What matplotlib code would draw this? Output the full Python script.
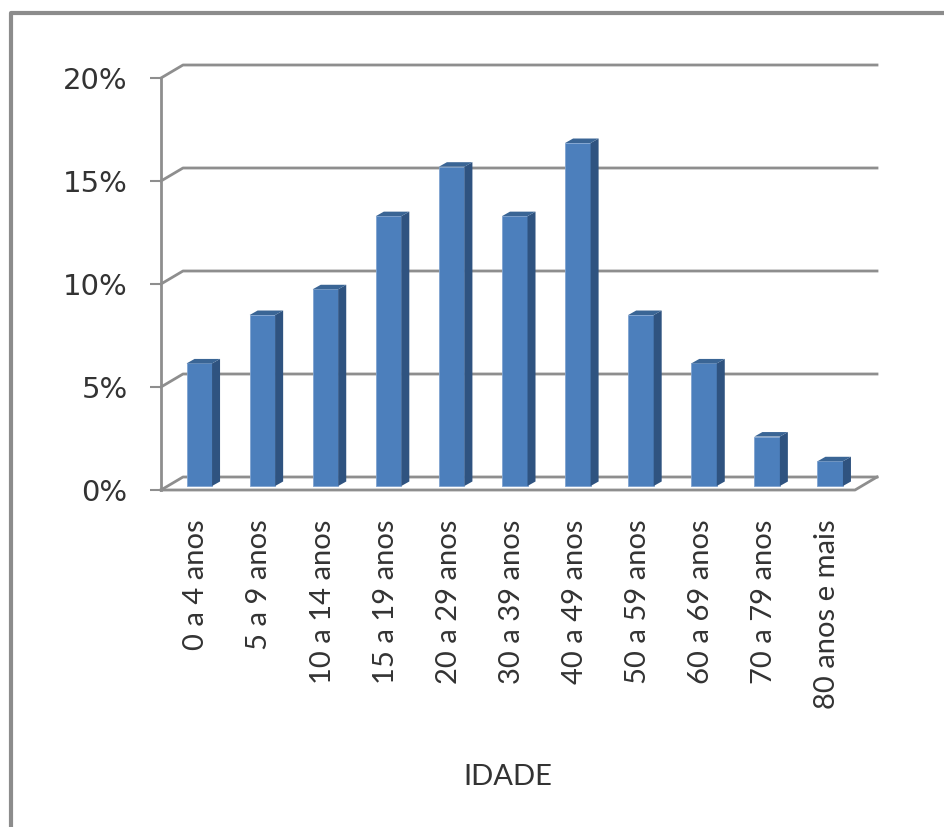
import matplotlib
matplotlib.use("Agg")
import matplotlib.pyplot as plt
from matplotlib.patches import Polygon, Rectangle

categories = ["0 a 4 anos", "5 a 9 anos", "10 a 14 anos", "15 a 19 anos", "20 a 29 anos",
              "30 a 39 anos", "40 a 49 anos", "50 a 59 anos", "60 a 69 anos", "70 a 79 anos",
              "80 anos e mais"]
values = [5.95, 8.3, 9.55, 13.1, 15.5, 13.1, 16.65, 8.3, 5.95, 2.4, 1.2]
yticks = [0, 5, 10, 15, 20]
ytick_labels = ["0%", "5%", "10%", "15%", "20%"]

W, H = 945, 827
LINE = "#8e8e8e"
TEXT = "#333333"
fig = plt.figure(figsize=(W / 100, H / 100), dpi=100, facecolor="white")
# whole figure in pixels for the outer frame
bg = fig.add_axes([0, 0, 1, 1])
bg.set_xlim(0, W)
bg.set_ylim(H, 0)
bg.axis("off")
bg.plot([10.5, 10.5, 945], [827, 13, 13], color="#8c8c8c", lw=3)

# the axes cover the front plane of the fake 3d box
x0, x1 = 161, 855
y0, y1 = 490, 78
ax = fig.add_axes([x0 / W, 1 - y0 / H, (x1 - x0) / W, (y0 - y1) / H])
n = len(values)
ax.set_xlim(0, n)
ax.set_ylim(0, 20)
ax.patch.set_alpha(0)
for s in ["top", "right", "bottom"]:
    ax.spines[s].set_visible(False)
ax.spines["left"].set_color(LINE)
ax.spines["left"].set_linewidth(2)

px = n / (x1 - x0)
py = 20 / (y0 - y1)

# depth of the box walls
dx = 22 * px
dy = 13 * py
for t in yticks:
    ax.plot([0, dx, n + dx], [t, t + dy, t + dy], color=LINE, lw=2, clip_on=False, zorder=1)
ax.plot([n + dx, n, 0], [dy, 0, 0], color=LINE, lw=2, clip_on=False, zorder=1)

bar_w = 25.5 * px
bx = 8 * px
by = 4.5 * py
base = 4 * py
for i, v in enumerate(values):
    left = i + 0.405
    top = base + v
    ax.add_patch(Rectangle((left, base), bar_w, v, facecolor="#4c7fbc", edgecolor="#7fa3d0", lw=0.6, zorder=3))
    ax.add_patch(Polygon([(left + bar_w, base), (left + bar_w + bx, base + by), (left + bar_w + bx, top + by), (left + bar_w, top)],
                         facecolor="#2f5380", edgecolor="none", zorder=3))
    ax.add_patch(Polygon([(left, top), (left + bx, top + by), (left + bar_w + bx, top + by), (left + bar_w, top)],
                         facecolor="#3a6595", edgecolor="none", zorder=3))

ax.set_yticks(yticks)
ax.set_yticklabels(ytick_labels)
for lab in ax.get_yticklabels():
    lab.set_fontfamily(["DejaVu Sans"])
    lab.set_fontsize(21)
    lab.set_color(TEXT)
ax.tick_params(axis="y", length=8, width=1.5, color=LINE, pad=16)

ax.set_xticks([i + 0.56 for i in range(n)])
ax.set_xticklabels(categories, rotation=90)
for lab in ax.get_xticklabels():
    lab.set_fontfamily(["Lato"])
    lab.set_fontsize(21)
    lab.set_color(TEXT)
ax.tick_params(axis="x", length=0, pad=21)

bg.text(508, 777, "IDADE", fontsize=21, family="Lato", color=TEXT, ha="center", va="center")

fig.savefig("out.png", dpi=100)
